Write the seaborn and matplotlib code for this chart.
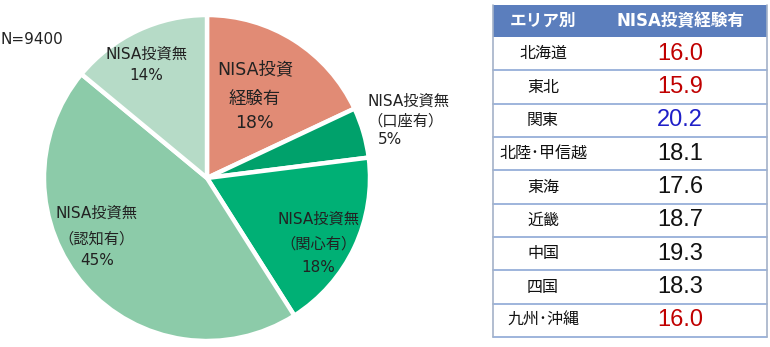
import numpy as np
import matplotlib
matplotlib.use("Agg")
import matplotlib.pyplot as plt
import seaborn as sns
from matplotlib.patches import Rectangle

# ---- data ----
slice_names = ["NISA投資経験有", "NISA投資無（口座有）", "NISA投資無（関心有）",
               "NISA投資無（認知有）", "NISA投資無"]
slice_values = [18, 5, 18, 45, 14]
slice_labels = [["NISA投資", "経験有", "18%"],
                ["NISA投資無", "（口座有）", "5%"],
                ["NISA投資無", "（関心有）", "18%"],
                ["NISA投資無", "（認知有）", "45%"],
                ["NISA投資無", "14%"]]
sample_text = "N=9400"

areas = ["北海道", "東北", "関東", "北陸･甲信越", "東海", "近畿", "中国", "四国", "九州･沖縄"]
nisa_rates = [16.0, 15.9, 20.2, 18.1, 17.6, 18.7, 19.3, 18.3, 16.0]
header = ["エリア別", "NISA投資経験有"]
rate_colors = ["#C00000", "#C00000", "#1F1FC8", "#111111", "#111111",
               "#111111", "#111111", "#111111", "#C00000"]

# ---- style ----
sns.set_theme(style="white")
fam = ['DejaVu Sans', 'Noto Sans CJK JP']
plt.rcParams['font.family'] = fam
num_fam = ['Liberation Sans', 'Noto Sans CJK JP']

pie_colors = sns.color_palette(["#E18B75", "#00A16B", "#00B075", "#8CCBA9", "#B6DBC7"])

W, H = 770, 347
fig = plt.figure(figsize=(W / 100, H / 100), dpi=100)

# pie axes: centre ~ (207,177), radius ~163 px
r_px = 165
cx, cy = 207, 178
ax = fig.add_axes([(cx - r_px) / W, (H - cy - r_px) / H, 2 * r_px / W, 2 * r_px / H])
wedges, _ = ax.pie(slice_values, colors=pie_colors, startangle=90, counterclock=False,
                   radius=1.0, wedgeprops=dict(edgecolor="white", linewidth=3.2))
ax.set_xlim(-r_px / 163, r_px / 163)
ax.set_ylim(-r_px / 163, r_px / 163)
ax.set_aspect("equal")
ax.axis("off")

# label layout (x, [y per line], ha, fontsize)
label_layout = [
    (0.294, [0.669, 0.485, 0.337], "center", 12.5),
    (0.982, [0.472, 0.350, 0.239], "left", 11),
    (0.681, [-0.252, -0.405, -0.552], "center", 11),
    (-0.675, [-0.215, -0.374, -0.509], "center", 11),
    (-0.374, [0.761, 0.626], "center", 11),
]
for lines, (lx, ys, ha, fs) in zip(slice_labels, label_layout):
    for j, (txt, yy) in enumerate(zip(lines, ys)):
        xx = lx
        if ha == "left" and txt.endswith("%"):
            xx = lx + 0.065
        ax.text(xx, yy, txt, ha=ha, va="center", fontsize=fs, color="#222222")

fig.text(0.0, 1 - 39 / H, sample_text, ha="left", va="center", fontsize=11, color="#222222")

# ---- table ----
tl, tr, ttop, tbot = 493, 767, 5, 337
tax = fig.add_axes([tl / W, (H - tbot) / H, (tr - tl) / W, (tbot - ttop) / H])
n = len(areas)
header_h = 32 / ((tbot - ttop - 32) / n)
tax.set_xlim(0, 1)
tax.set_ylim(n + header_h, 0)
tax.axis("off")
line_c = "#8EA8D6"
tax.add_patch(Rectangle((0, 0), 1, header_h, facecolor="#5B7EBD", edgecolor="none"))
col_x = [(543 - tl) / (tr - tl), (680 - tl) / (tr - tl)]
for x, h in zip(col_x, header):
    tax.text(x, header_h / 2, h, ha="center", va="center", fontsize=12,
             fontweight="bold", color="white")
for i, (a, v, c) in enumerate(zip(areas, nisa_rates, rate_colors)):
    yc = header_h + i + 0.5
    tax.text(col_x[0], yc, a, ha="center", va="center", fontsize=11.5, color="#111111")
    tax.text(col_x[1], yc, f"{v:.1f}", ha="center", va="center", fontsize=17,
             color=c, family=num_fam)
    tax.plot([0, 1], [header_h + i + 1] * 2, color=line_c, lw=1.2, clip_on=False)
tax.plot([0, 0], [0, n + header_h], color="#A4B2C8", lw=1.2, clip_on=False)
tax.plot([1, 1], [0, n + header_h], color="#A4B2C8", lw=1.2, clip_on=False)

fig.savefig("out.png", dpi=100, facecolor="white")
